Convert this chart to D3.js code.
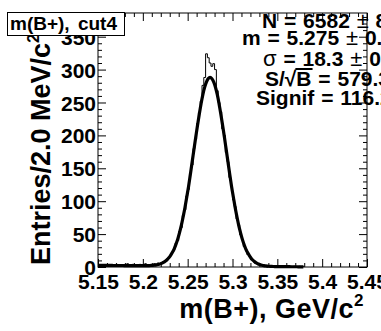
<!DOCTYPE html>
<html><head><meta charset="utf-8">
<script src="https://cdn.jsdelivr.net/npm/d3@7/dist/d3.min.js"></script>
<style>
html,body{margin:0;padding:0;background:#fff;}
svg{display:block;}
text{font-family:"Liberation Sans",Arial,Helvetica,sans-serif;font-weight:bold;fill:#000;}
</style></head>
<body>
<script>
// ---- data ----
const binStart = 5.15;      // GeV, lower edge of the first bin
const binWidth = 0.002;     // GeV (2.0 MeV)
const histCounts = [
  2,1,3,2,1,2,3,1,2,2,4,1,2,3,2,1,5,3,2,4,2,3,1,4,3,2,5,3,
  3,4,3,5,4,6,5,7,8,10,12,14,18,22,27,36,40,54,60,78,87,108,118,142,155,180,194,218,235,252,276,288,
  324,318,310,305,309,300,268,250,236,210,200,174,160,136,124,102,92,73,64,49,42,31,27,19,17,11,10,6,5,3,3,2,1,
  1,0,1,2,0,1,1,0,2,1,0,1,1,0,1,0,1,0,0,1,0,1
];
const fitValues = [
  2.5,2.5,2.5,2.4,2.4,2.4,2.4,2.4,2.3,2.3,2.3,2.3,2.3,2.3,2.2,2.2,2.2,2.2,2.2,2.1,2.1,2.1,2.1,2.1,2.1,2.1,2.1,2.2,
  2.2,2.3,2.5,2.8,3.2,3.8,4.5,5.5,6.9,8.7,11.0,14.0,17.7,22.3,27.7,34.7,42.7,52.6,63.6,76.6,90.5,106.5,122.5,140.5,159.5,178.4,197.4,215.4,232.4,248.4,262.4,273.3,
  281.3,286.3,288.3,286.3,281.2,273.2,262.2,248.2,232.2,215.2,197.1,178.1,159.1,140.1,122.1,106.0,90.0,76.0,63.0,52.0,42.0,33.9,26.9,21.5,16.9,13.1,10.1,7.8,5.9,4.5,3.5,2.7,2.1,
  1.6,1.3,1.1,0.9,0.8,0.7,0.7,0.6,0.6,0.6,0.5,0.5,0.5,0.5,0.4,0.4,0.4,0.4,0.3,0.3,0.3,0.3
];
const xMajorTicks = [5.15,5.2,5.25,5.3,5.35,5.4,5.45];
const xTickLabels = ["5.15","5.2","5.25","5.3","5.35","5.4","5.45"];
const xMinorTicks = [5.16,5.17,5.18,5.19,5.21,5.22,5.23,5.24,5.26,5.27,5.28,5.29,5.31,5.32,5.33,5.34,5.36,5.37,5.38,5.39,5.41,5.42,5.43,5.44];
const yMajorTicks = [0,50,100,150,200,250,300,350];
const yMinorTicks = [10,20,30,40,60,70,80,90,110,120,130,140,160,170,180,190,210,220,230,240,260,270,280,290,310,320,330,340,360,370,380];
const xDomain = [5.15,5.45];
const yDomain = [0,386];
const titleText = "m(B+), cut4";
const statLines = [
  ["N = 6582 ", "±", " 81"],
  ["m = 5.275 ", "±", " 0.000"],
  ["σ", " = 18.3 ", "±", " 0.2"],
  ["S/√B = 579.3"],
  ["Signif = 116.2"]
];

// ---- layout ----
const W = 381, H = 331;
const L = 98, R = 367, T = 13, B = 267;
const svg = d3.select("body").append("svg").attr("width", W).attr("height", H);

const x = d3.scaleLinear().domain(xDomain).range([L, R]);
const y = d3.scaleLinear().domain(yDomain).range([B, T]);

// histogram step line
const edges = histCounts.map((c, i) => binStart + i * binWidth);
const stepPts = [];
histCounts.forEach((c, i) => {
  stepPts.push([edges[i], c]);
  stepPts.push([edges[i] + binWidth, c]);
});
const line = d3.line().x(d => x(d[0])).y(d => y(d[1]));
svg.append("path").attr("d", line(stepPts))
  .attr("fill", "none").attr("stroke", "#000").attr("stroke-width", 1);

// fit curve
const fitPts = fitValues.map((v, i) => [binStart + (i + 0.5) * binWidth, v]);
svg.append("path").attr("d", d3.line().x(d => x(d[0])).y(d => y(d[1])).curve(d3.curveMonotoneX)(fitPts))
  .attr("fill", "none").attr("stroke", "#000").attr("stroke-width", 3.2).attr("stroke-linejoin", "round");

// axes
function styleAxis(g) {
  g.select(".domain").remove();
  g.selectAll("line").attr("stroke", "#000").attr("stroke-width", 1);
}
svg.append("g").attr("transform", `translate(0,${B})`)
  .call(d3.axisBottom(x).tickValues(xMajorTicks).tickSize(-8).tickPadding(12)
    .tickFormat((d, i) => xTickLabels[i]))
  .call(styleAxis)
  .call(g => g.selectAll("text").attr("font-size", 21).attr("font-family", null).attr("dy", null).attr("y", 22));
svg.append("g").attr("transform", `translate(0,${B})`)
  .call(d3.axisBottom(x).tickValues(xMinorTicks).tickSize(-4).tickFormat(""))
  .call(styleAxis);
svg.append("g").attr("transform", `translate(0,${T})`)
  .call(d3.axisTop(x).tickValues(xMajorTicks).tickSize(-8).tickFormat(""))
  .call(styleAxis);
svg.append("g").attr("transform", `translate(0,${T})`)
  .call(d3.axisTop(x).tickValues(xMinorTicks).tickSize(-4).tickFormat(""))
  .call(styleAxis);

svg.append("g").attr("transform", `translate(${L},0)`)
  .call(d3.axisLeft(y).tickValues(yMajorTicks).tickSize(-8).tickPadding(10).tickFormat(d3.format("d")))
  .call(styleAxis)
  .call(g => g.selectAll("text").attr("font-size", 21).attr("font-family", null).attr("x", -2).attr("dy", "0.36em"));
svg.append("g").attr("transform", `translate(${L},0)`)
  .call(d3.axisLeft(y).tickValues(yMinorTicks).tickSize(-4).tickFormat(""))
  .call(styleAxis);
svg.append("g").attr("transform", `translate(${R},0)`)
  .call(d3.axisRight(y).tickValues(yMajorTicks).tickSize(-8).tickFormat(""))
  .call(styleAxis);
svg.append("g").attr("transform", `translate(${R},0)`)
  .call(d3.axisRight(y).tickValues(yMinorTicks).tickSize(-4).tickFormat(""))
  .call(styleAxis);

// frame
svg.append("rect").attr("x", L).attr("y", T).attr("width", R - L).attr("height", B - T)
  .attr("fill", "none").attr("stroke", "#000").attr("stroke-width", 1);

// axis titles
const yl = svg.append("text").attr("transform", "translate(50,265) rotate(-90)")
  .attr("font-size", 27).attr("text-anchor", "start");
yl.append("tspan").text("Entries/2.0 MeV/c");
yl.append("tspan").attr("font-size", 17).attr("dy", -11).text("2");

const xl = svg.append("text").attr("x", 364).attr("y", 318)
  .attr("font-size", 27).attr("letter-spacing", 0.5).attr("text-anchor", "end");
xl.append("tspan").text("m(B+), GeV/c");
xl.append("tspan").attr("font-size", 17).attr("dy", -12).text("2");

// stat text (clipped by the page edge)
const statPos = [[262, 28], [242, 45], [263, 66], [265, 86], [256, 105]];
statLines.forEach((parts, i) => {
  const t = svg.append("text").attr("x", statPos[i][0]).attr("y", statPos[i][1])
    .attr("font-size", 21).attr("word-spacing", 1);
  parts.forEach(p => {
    const s = t.append("tspan").text(p);
    if (p === "±" || p === "σ") s.attr("font-weight", "normal").attr("font-size", 22);
  });
  const str = parts.join("");
  const k = str.indexOf("√");
  if (k >= 0) {
    const n = t.node();
    const x0 = n.getEndPositionOfChar(k).x - 1;
    const x1 = n.getEndPositionOfChar(k + 1).x + 1;
    svg.append("line").attr("x1", x0).attr("x2", x1)
      .attr("y1", statPos[i][1] - 17).attr("y2", statPos[i][1] - 17)
      .attr("stroke", "#000").attr("stroke-width", 2);
  }
});

// title box
svg.append("rect").attr("x", 7.5).attr("y", 12.5).attr("width", 117).attr("height", 23)
  .attr("fill", "#fff").attr("stroke", "#000").attr("stroke-width", 1);
svg.append("text").attr("x", 10).attr("y", 30).attr("font-size", 19).attr("word-spacing", 3).text(titleText);
</script>
</body></html>
